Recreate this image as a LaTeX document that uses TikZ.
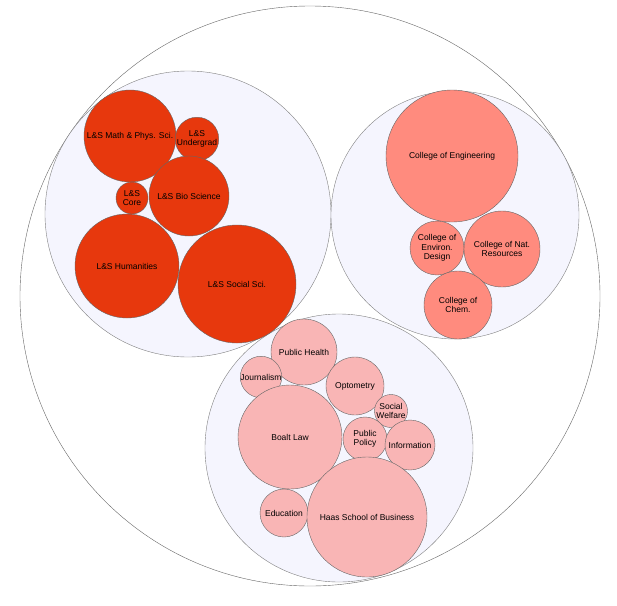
\documentclass[tikz,border=0pt]{standalone}
\usepackage{fontspec}
\setmainfont{Liberation Sans}
\begin{document}
\begin{tikzpicture}[x=1pt,y=-1pt,
  c/.style={circle,draw=black!60,line width=0.4pt,inner sep=0pt,minimum size=#1,align=center,font=\fontsize{8.5}{9.5}\selectfont},
  grp/.style={c=#1,fill=gray!12!blue!4!white,draw=black!50},
  ls/.style={c=#1,fill=red!60!orange!90!black!95},
  ce/.style={c=#1,fill=red!45!white!90!orange},
  pr/.style={c=#1,fill=red!28!white!95!gray}]
\useasboundingbox (0,0) rectangle (617,605);
\node[c=580pt,draw=black!60] (root) at (310,296) {};
\node[grp=286pt] (gls) at (188,214) {};
\node[grp=248pt] (gce) at (455,215) {};
\node[grp=268pt] (gpr) at (339,448) {};
\node[ls=92pt] (math) at (130,136) {L\&S Math \& Phys. Sci.};
\node[ls=42pt] (ug) at (197,139) {L\&S\\Undergrad};
\node[ls=32pt] (core) at (132,198) {L\&S\\Core};
\node[ls=80pt] (bio) at (189,196) {L\&S Bio Science};
\node[ls=104pt] (hum) at (127,266) {L\&S Humanities};
\node[ls=118pt] (soc) at (237,284) {L\&S Social Sci.};
\node[ce=132pt] (eng) at (452,156) {College of Engineering};
\node[ce=54pt] (env) at (437,248) {College of\\Environ.\\Design};
\node[ce=76pt] (nat) at (502,249) {College of Nat.\\Resources};
\node[ce=68pt] (chem) at (458,305) {College of\\Chem.};
\node[pr=66pt] (ph) at (304,352) {Public Health};
\node[pr=32pt] (jo) at (261,377) {Journalism};
\node[pr=58pt] (op) at (355,386) {Optometry};
\node[pr=32pt] (sw) at (391,411) {Social\\Welfare};
\node[pr=44pt] (pp) at (365,439) {Public\\Policy};
\node[pr=50pt] (inf) at (410,445) {Information};
\node[pr=104pt] (law) at (290,437) {Boalt Law};
\node[pr=48pt] (edu) at (284,513) {Education};
\node[pr=120pt] (haas) at (367,517) {Haas School of Business};
\end{tikzpicture}
\end{document}
